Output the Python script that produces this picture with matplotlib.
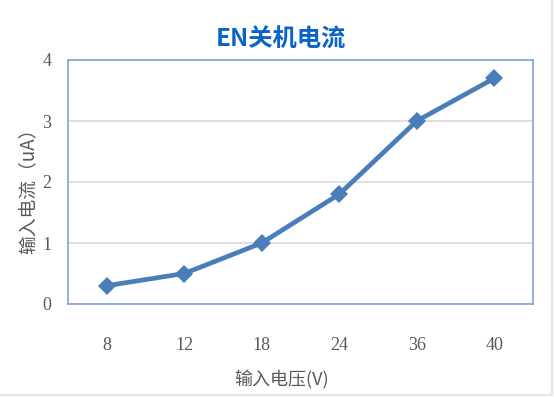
import matplotlib.pyplot as plt
from matplotlib.lines import Line2D

plt.rcParams['font.family'] = ['Liberation Serif', 'Noto Sans CJK SC', 'DejaVu Sans']

# --- data ---
voltages = ['8', '12', '18', '24', '36', '40']
current_ua = [0.3, 0.5, 1.0, 1.8, 3.0, 3.7]
y_ticks = [0, 1, 2, 3, 4]

fig = plt.figure(figsize=(5.54, 3.97), dpi=100)
ax = fig.add_axes([68 / 554, 1 - 304 / 397, 465 / 554, 244 / 397])

x = list(range(len(voltages)))
ax.plot(x, current_ua, color='#4a7ebb', linewidth=3.4, marker='D',
        markersize=9.5, markeredgewidth=0, solid_capstyle='round', zorder=3)

ax.set_xlim(-0.5, len(voltages) - 0.5)
ax.set_ylim(0, 4)
ax.set_xticks(x)
ax.set_xticklabels(voltages)
ax.set_yticks(y_ticks)
ax.yaxis.grid(True, color='#d9d9d9', linewidth=1.2)
ax.set_axisbelow(True)

for s in ax.spines.values():
    s.set_color('#7fa3d6')
    s.set_linewidth(1.2)

ax.tick_params(length=0, labelsize=13, labelcolor='#595959')
ax.tick_params(axis='x', pad=24)
ax.tick_params(axis='y', pad=12)

ax.set_xlabel('输入电压(V)', fontsize=13, color='#595959',
              family=['Noto Sans CJK SC', 'DejaVu Sans'])
ax.xaxis.set_label_coords((282 - 68) / 465, -(380 - 304) / 244)
ax.xaxis.label.set_va('center')
ax.set_ylabel('输入电流（uA）', fontsize=13.5, color='#595959',
              family=['Noto Sans CJK SC', 'DejaVu Sans'])
ax.yaxis.set_label_coords(-(68 - 28) / 465, (304 - 186) / 244)
ax.yaxis.label.set_va('center')

fig.text(281 / 554, 1 - 40 / 397, 'EN关机电流', ha='center', va='center',
         fontsize=17.5, fontweight='bold', color='#0a64c8',
         family=['Noto Sans CJK SC', 'DejaVu Sans'])

# faint outer frame on the right and bottom edges
fig.add_artist(Line2D([552 / 554, 552 / 554], [1 - 395 / 397, 1], color='#e6e6e6',
                      linewidth=1.5, transform=fig.transFigure))
fig.add_artist(Line2D([0, 552 / 554], [1 - 395 / 397, 1 - 395 / 397], color='#e6e6e6',
                      linewidth=1.5, transform=fig.transFigure))

fig.savefig('out.png', dpi=100)
